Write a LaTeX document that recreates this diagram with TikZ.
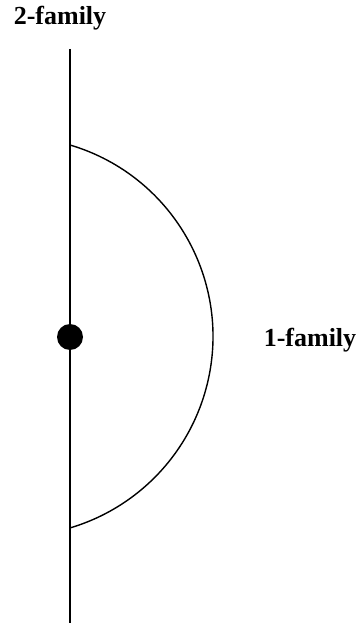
\documentclass[tikz,border=0pt]{standalone}
\usepackage{fontspec}
\setmainfont{Liberation Serif}
\begin{document}
\begin{tikzpicture}[x=1pt,y=1pt,
  lbl/.style={font=\bfseries\fontsize{26}{30}\selectfont, inner sep=0pt, anchor=base},
  axis/.style={line width=1.7pt},
  curve/.style={line width=1.4pt},
  blob/.style={circle, fill=black, minimum size=26pt, inner sep=0pt}]
\useasboundingbox (0,0) rectangle (361,625);
\coordinate (top) at (70,576);
\coordinate (bot) at (70,2);
\coordinate (a1) at (70,480);
\node[blob] (dot) at (70,288) {};
\draw[axis] (top) -- (bot);
\draw[curve] (a1) arc[start angle=73.5, end angle=-73.5, radius=199.7];
\node[lbl] (l2) at (60,600) {2-family};
\node[lbl] (l1) at (310,278) {1-family};
\end{tikzpicture}
\end{document}
